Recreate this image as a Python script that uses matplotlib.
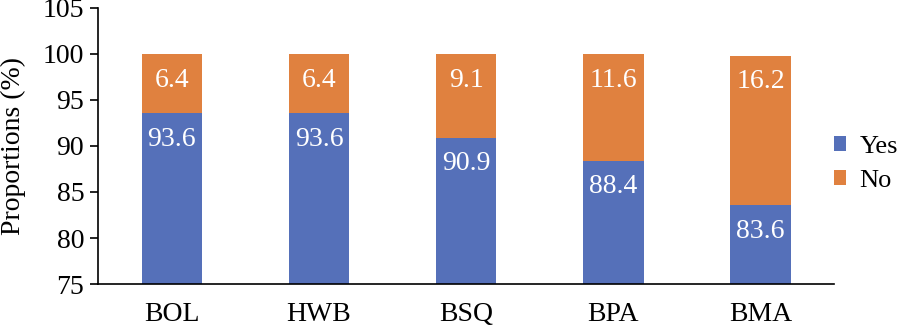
import matplotlib
matplotlib.use("Agg")
import matplotlib.pyplot as plt
import numpy as np

categories = ["BOL", "HWB", "BSQ", "BPA", "BMA"]
yes_vals = [93.6, 93.6, 90.9, 88.4, 83.6]
no_vals = [6.4, 6.4, 9.1, 11.6, 16.2]
yticks = [75, 80, 85, 90, 95, 100, 105]

blue = "#5570B9"
orange = "#E0813F"

plt.rcParams['font.family'] = ['Liberation Serif', 'DejaVu Serif']
fs = 20

fig = plt.figure(figsize=(9, 3.28), dpi=100)
ax = fig.add_axes([0.109, 0.134, 0.818, 0.842])

x = np.arange(len(categories))
w = 0.41
ax.bar(x, yes_vals, w, color=blue, label="Yes", zorder=2)
ax.bar(x, no_vals, w, bottom=yes_vals, color=orange, label="No", zorder=2)

for i in range(len(categories)):
    top_yes = yes_vals[i]
    top_no = yes_vals[i] + no_vals[i]
    ax.text(x[i], top_yes - 2.85, f"{yes_vals[i]:.1f}", ha="center", va="center",
            color="white", fontsize=fs, zorder=3)
    ax.text(x[i], top_no - 2.85, f"{no_vals[i]:.1f}", ha="center",
            va="center", color="white", fontsize=fs, zorder=3)

ax.set_ylim(75, 105)
ax.set_xlim(-0.5, len(categories) - 0.5)
ax.set_yticks(yticks)
ax.set_xticks(x)
ax.set_xticklabels(categories)
ax.tick_params(axis="y", labelsize=fs, direction="out", length=6, width=1.2, pad=4)
ax.tick_params(axis="x", labelsize=fs, length=0, pad=13)
ax.set_ylabel("Proportions (%)", fontsize=fs, labelpad=12)
for s in ["top", "right"]:
    ax.spines[s].set_visible(False)
ax.spines["left"].set_linewidth(1.2)
ax.spines["bottom"].set_linewidth(1.2)

ax.legend(loc="center left", bbox_to_anchor=(1.0, 0.435), frameon=False, fontsize=19,
          handlelength=0.45, handleheight=0.45, handletextpad=0.5, labelspacing=0.45,
          borderaxespad=0.0, borderpad=0.0)

fig.savefig("out.png", dpi=100)
